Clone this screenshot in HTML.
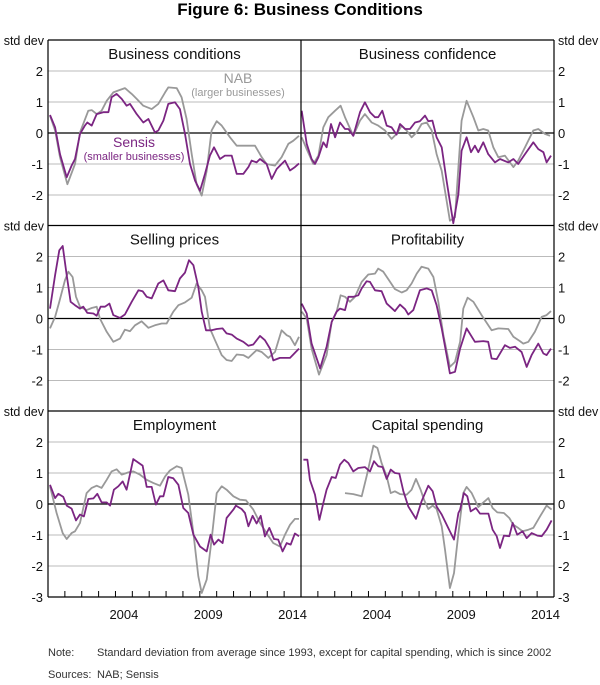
<!DOCTYPE html>
<html><head><meta charset="utf-8">
<style>
html,body{margin:0;padding:0;background:#fff;}
body{width:600px;height:680px;overflow:hidden;font-family:"Liberation Sans",sans-serif;}
svg text{font-family:"Liberation Sans",sans-serif;}
</style></head>
<body>
<svg id="chart" width="600" height="680" viewBox="0 0 600 680" xmlns="http://www.w3.org/2000/svg">
<text x="300" y="15" text-anchor="middle" font-size="17" font-weight="bold" fill="#000">Figure 6: Business Conditions</text>
<g id="grid"></g><g id="series"></g><g id="frame"></g><g id="labels"></g>
<text x="238" y="83" text-anchor="middle" font-size="14" fill="#999">NAB</text>
<text x="238" y="96" text-anchor="middle" font-size="11" fill="#999">(larger businesses)</text>
<text x="134" y="147" text-anchor="middle" font-size="14" fill="#7b2582">Sensis</text>
<text x="134" y="160" text-anchor="middle" font-size="11" fill="#7b2582">(smaller businesses)</text>
<text x="48" y="656" font-size="11" fill="#333">Note:</text>
<text x="97" y="656" font-size="11" fill="#333">Standard deviation from average since 1993, except for capital spending, which is since 2002</text>
<text x="48" y="678" font-size="11" fill="#333">Sources:</text>
<text x="97" y="678" font-size="11" fill="#333">NAB; Sensis</text>
</svg>
<script>
// ---- data ----
const panelTitles = ["Business conditions","Business confidence","Selling prices","Profitability","Employment","Capital spending"];
const yTicks = [2,1,0,-1,-2];
const xTickLabels = [2004,2009,2014];

const bcSensisT = [2000.12,2000.42,2000.71,2001.11,2001.40,2001.60,2001.90,2002.19,2002.33,2002.59,2002.89,2003.28,2003.58,2003.77,2004.07,2004.37,2004.66,2004.86,2005.26,2005.65,2005.95,2006.34,2006.54,2006.84,2007.13,2007.53,2007.82,2008.12,2008.42,2008.72,2009.01,2009.31,2009.60,2009.84,2010.20,2010.49,2010.89,2011.19,2011.58,2011.88,2012.07,2012.37,2012.57,2012.96,2013.26,2013.56,2013.85,2014.05,2014.35,2014.64,2014.88];
const bcSensisV = [0.58,0.18,-0.68,-1.43,-1.05,-0.84,-0.03,0.24,0.34,0.24,0.61,0.67,0.67,1.15,1.26,1.10,0.88,0.94,0.61,0.34,0.45,0.02,0.08,0.40,0.94,0.99,0.77,-0.03,-1.0,-1.54,-1.86,-1.32,-0.73,-0.46,-0.84,-0.73,-0.73,-1.32,-1.32,-1.1,-0.89,-0.95,-0.84,-1.0,-1.48,-1.16,-1.0,-0.89,-1.21,-1.1,-0.98];
const bcNabT = [2000.12,2000.42,2000.71,2001.15,2001.60,2001.90,2002.39,2002.59,2002.89,2003.18,2003.48,2003.87,2004.17,2004.56,2004.96,2005.26,2005.65,2006.15,2006.54,2006.94,2007.13,2007.63,2007.92,2008.22,2008.52,2008.81,2009.11,2009.41,2009.70,2010.00,2010.30,2010.79,2011.19,2011.68,2012.27,2012.67,2012.96,2013.46,2013.85,2014.25,2014.54,2014.88];
const bcNabV = [0.56,0.08,-0.78,-1.65,-1.0,0.02,0.72,0.74,0.61,0.72,1.04,1.31,1.37,1.45,1.26,1.10,0.88,0.77,0.94,1.31,1.47,1.45,1.15,0.45,-0.68,-1.65,-2.02,-1.22,0.08,0.38,0.24,-0.14,-0.41,-0.41,-0.41,-0.78,-1.0,-1.05,-0.78,-0.35,-0.25,-0.09];

const cfSensisT = [2000.04,2000.34,2000.63,2000.83,2001.03,2001.32,2001.52,2001.78,2002.02,2002.31,2002.61,2002.81,2003.10,2003.50,2003.79,2004.09,2004.39,2004.58,2004.82,2005.08,2005.37,2005.67,2005.87,2006.17,2006.46,2006.76,2007.05,2007.35,2007.55,2007.79,2008.04,2008.34,2008.63,2009.03,2009.33,2009.52,2009.82,2010.08,2010.31,2010.51,2010.81,2011.10,2011.50,2011.80,2012.29,2012.59,2012.88,2013.28,2013.77,2014.07,2014.37,2014.56,2014.82];
const cfSensisV = [0.72,-0.35,-0.84,-1.0,-0.78,-0.3,-0.46,0.29,-0.14,0.34,0.13,0.13,-0.09,0.67,0.99,0.67,0.51,0.51,0.72,0.24,0.18,-0.05,0.29,0.13,0.13,0.34,0.38,0.56,0.38,0.40,-0.14,-0.46,-1.54,-2.91,-1.97,-0.57,-0.14,-0.62,-0.41,-0.62,-0.3,-0.68,-0.95,-0.84,-0.95,-0.84,-1.0,-0.68,-0.3,-0.52,-0.62,-0.95,-0.73];
const cfNabT = [2000.04,2000.34,2000.73,2001.03,2001.32,2001.62,2002.02,2002.35,2002.61,2003.10,2003.50,2003.79,2004.19,2004.58,2004.98,2005.37,2005.67,2005.97,2006.26,2006.56,2006.86,2007.15,2007.45,2007.75,2008.04,2008.34,2008.63,2008.83,2009.13,2009.33,2009.52,2009.82,2010.22,2010.51,2010.81,2011.10,2011.40,2011.70,2012.09,2012.59,2012.88,2013.28,2013.77,2014.07,2014.46,2014.76];
const cfNabV = [-0.14,-0.52,-1.0,-0.73,0.18,0.51,0.72,0.88,0.51,-0.09,0.40,0.61,0.34,0.24,0.08,-0.19,-0.03,0.24,0.08,-0.14,0.02,0.29,0.34,0.08,-0.68,-1.22,-2.18,-2.83,-2.72,-1.1,0.40,1.04,0.51,0.08,0.13,0.08,-0.46,-0.78,-0.73,-1.1,-0.89,-0.46,0.08,0.13,-0.03,-0.09];

const spSensisT = [2000.12,2000.42,2000.67,2000.87,2001.11,2001.34,2001.60,2001.90,2002.09,2002.33,2002.69,2002.89,2003.12,2003.38,2003.64,2003.87,2004.27,2004.56,2004.96,2005.36,2005.61,2005.85,2006.15,2006.54,2006.84,2007.13,2007.53,2007.82,2008.12,2008.36,2008.62,2008.91,2009.11,2009.37,2009.70,2010.00,2010.35,2010.59,2010.89,2011.19,2011.58,2011.88,2012.17,2012.57,2012.86,2013.16,2013.36,2013.75,2014.35,2014.88];
const spSensisV = [0.32,1.40,2.20,2.34,1.40,0.54,0.43,0.32,0.38,0.18,0.16,0.09,0.38,0.38,0.48,0.11,0.02,0.13,0.54,0.91,0.88,0.70,0.65,1.13,1.23,0.91,0.88,1.29,1.48,1.88,1.72,1.02,0.22,-0.38,-0.38,-0.34,-0.32,-0.48,-0.52,-0.65,-0.75,-0.88,-0.84,-0.56,-0.70,-0.97,-1.35,-1.27,-1.27,-0.97];
const spNabT = [2000.12,2000.42,2000.67,2001.01,2001.21,2001.46,2001.66,2001.90,2002.29,2002.59,2002.89,2003.08,2003.48,2003.87,2004.27,2004.56,2004.86,2005.16,2005.55,2005.95,2006.34,2006.74,2007.03,2007.43,2007.73,2008.12,2008.52,2008.81,2009.11,2009.31,2009.60,2009.90,2010.30,2010.59,2010.89,2011.19,2011.58,2011.88,2012.37,2012.67,2013.06,2013.46,2013.85,2014.15,2014.35,2014.64,2014.88];
const spNabV = [-0.32,0.05,0.54,1.24,1.51,1.34,0.70,0.38,0.27,0.34,0.38,0,-0.43,-0.75,-0.65,-0.36,-0.41,-0.22,-0.09,-0.30,-0.22,-0.16,-0.16,0.22,0.43,0.52,0.67,1.13,0.91,0.70,-0.32,-0.70,-1.18,-1.34,-1.37,-1.16,-1.18,-1.27,-1.02,-1.08,-1.27,-1.08,-0.38,-0.54,-0.59,-0.86,-0.59];

const prSensisT = [2000.04,2000.34,2000.63,2001.13,2001.52,2001.82,2002.11,2002.31,2002.61,2002.81,2003.10,2003.40,2003.60,2003.89,2004.09,2004.39,2004.78,2005.08,2005.57,2005.87,2006.17,2006.36,2006.66,2007.05,2007.45,2007.75,2008.04,2008.34,2008.63,2008.83,2009.13,2009.43,2009.82,2010.31,2010.81,2011.10,2011.30,2011.60,2012.09,2012.39,2012.69,2013.08,2013.38,2013.67,2014.07,2014.37,2014.56,2014.82];
const prSensisV = [0.48,0.16,-0.81,-1.61,-0.91,-0.11,0.22,0.32,0.27,0.70,0.70,0.75,0.97,1.20,1.18,0.91,0.88,0.48,0.24,0.45,0.30,0.13,0.27,0.91,0.97,0.91,0.43,-0.32,-1.18,-1.77,-1.72,-0.97,-0.32,-0.75,-0.73,-0.75,-1.29,-1.31,-0.86,-0.95,-0.91,-1.08,-1.56,-1.18,-0.81,-1.13,-1.18,-0.97];
const prNabT = [2000.04,2000.34,2000.63,2001.07,2001.52,2001.82,2002.11,2002.35,2002.61,2002.90,2003.20,2003.60,2003.99,2004.39,2004.58,2004.88,2005.28,2005.57,2005.97,2006.26,2006.56,2006.86,2007.15,2007.55,2007.85,2008.14,2008.44,2008.83,2009.13,2009.43,2009.62,2009.88,2010.22,2010.71,2011.30,2011.70,2012.29,2012.59,2012.98,2013.18,2013.48,2013.87,2014.27,2014.56,2014.82];
const prNabV = [0.22,0,-0.97,-1.81,-1.18,-0.11,0.22,0.75,0.70,0.54,0.70,1.18,1.42,1.45,1.61,1.51,1.18,0.95,0.84,0.91,1.13,1.45,1.67,1.61,1.34,0.54,-0.54,-1.56,-1.40,-0.75,0.32,0.67,0.54,0.11,-0.38,-0.32,-0.34,-0.59,-0.73,-0.81,-0.75,-0.43,0.05,0.11,0.24];

const emSensisT = [2000.12,2000.42,2000.61,2000.91,2001.11,2001.40,2001.66,2001.90,2002.13,2002.39,2002.69,2002.92,2003.18,2003.48,2003.68,2003.91,2004.17,2004.43,2004.66,2005.06,2005.61,2005.85,2006.15,2006.40,2006.64,2006.84,2007.13,2007.43,2007.73,2008.02,2008.32,2008.62,2009.01,2009.41,2009.64,2009.84,2010.10,2010.35,2010.59,2010.99,2011.14,2011.48,2011.68,2011.88,2012.13,2012.37,2012.61,2012.86,2013.12,2013.40,2013.65,2013.91,2014.15,2014.39,2014.64,2014.88];
const emSensisV = [0.62,0.19,0.33,0.23,-0.05,-0.15,-0.53,-0.34,-0.40,0.16,0.18,0.33,0.05,0.05,-0.05,0.46,0.57,0.73,0.46,1.45,1.24,0.55,0.55,-0.02,0.25,0.25,0.87,0.83,0.62,-0.13,-0.29,-0.99,-1.37,-1.53,-0.99,-1.31,-1.15,-1.26,-0.45,-0.18,-0.05,-0.16,-0.29,-0.72,-0.38,-0.63,-0.38,-1.05,-0.77,-1.13,-1.15,-1.53,-1.26,-1.31,-0.95,-1.04];
const emNabT = [2000.12,2000.51,2000.87,2001.11,2001.40,2001.60,2001.90,2002.29,2002.59,2002.89,2003.18,2003.48,2003.77,2004.07,2004.37,2004.76,2005.06,2005.45,2005.85,2006.24,2006.64,2006.94,2007.23,2007.63,2007.92,2008.32,2008.62,2008.91,2009.11,2009.41,2009.70,2010.00,2010.30,2010.59,2010.99,2011.38,2011.74,2012.17,2012.57,2012.96,2013.36,2013.75,2014.05,2014.35,2014.64,2014.88];
const emNabV = [0.57,-0.29,-0.94,-1.13,-0.94,-0.88,-0.61,0.35,0.52,0.59,0.52,0.78,1.05,1.12,0.95,1.02,1.05,0.95,0.78,0.68,0.59,0.89,1.08,1.22,1.16,0.30,-0.94,-2.33,-2.87,-2.44,-1.15,0.35,0.57,0.46,0.25,0.14,0.12,-0.18,-0.61,-0.94,-1.26,-1.37,-0.99,-0.67,-0.48,-0.48];

const csSensisT = [2000.14,2000.38,2000.53,2000.83,2001.09,2001.32,2001.52,2001.82,2002.06,2002.31,2002.57,2002.81,2003.10,2003.40,2003.79,2004.09,2004.33,2004.58,2004.84,2005.08,2005.32,2005.57,2005.83,2006.07,2006.36,2006.82,2007.15,2007.55,2007.81,2008.04,2008.34,2008.73,2009.07,2009.33,2009.43,2009.66,2009.86,2010.06,2010.37,2010.61,2011.11,2011.36,2011.60,2011.80,2012.03,2012.35,2012.55,2012.82,2013.14,2013.38,2013.67,2014.01,2014.27,2014.56,2014.86];
const csSensisV = [1.43,1.43,0.78,0.30,-0.51,0.03,0.46,0.87,0.84,1.27,1.43,1.32,1.05,1.16,1.19,1.05,1.38,1.22,1.19,0.81,1.11,1.00,0.98,0.41,-0.08,-0.48,0.09,0.59,0.41,-0.08,-0.34,-0.77,-1.15,-0.29,-0.18,0.35,0.25,-0.24,-0.13,-0.31,-0.31,-0.83,-1.04,-1.42,-1.02,-1.04,-0.61,-0.99,-0.88,-1.10,-0.94,-1.02,-1.04,-0.83,-0.53];
const csNabT = [2002.61,2003.10,2003.60,2003.89,2004.29,2004.53,2004.78,2005.08,2005.32,2005.57,2005.87,2006.26,2006.56,2006.82,2007.09,2007.29,2007.55,2007.81,2008.04,2008.34,2008.54,2008.83,2009.07,2009.33,2009.62,2009.82,2010.12,2010.51,2010.77,2011.11,2011.36,2011.64,2012.03,2012.35,2012.59,2012.88,2013.14,2013.48,2013.77,2014.17,2014.56,2014.86];
const csNabV = [0.35,0.32,0.25,0.89,1.88,1.81,1.32,0.89,0.35,0.41,0.32,0.30,0.46,0.81,0.46,0.14,-0.16,-0.05,-0.16,-0.72,-1.47,-2.71,-2.23,-0.94,0.35,0.55,0.35,-0.10,0.03,0.19,-0.13,-0.27,-0.29,-0.45,-0.67,-0.77,-0.88,-0.83,-0.77,-0.40,-0.05,-0.18];

// ---- layout ----
const NS = "http://www.w3.org/2000/svg";
const colX = [48, 301], colW = 253;
const rowY = [40, 225.5, 411], rowH = 186, unit = 31;
const X0 = 2000, X1 = 2015;
function xs(col, yr){ return colX[col] + (yr - X0) / (X1 - X0) * colW; }
function ys(row, v){ return rowY[row] + rowH/2 - v * unit; }
function mk(tag, attrs, parent){
  const e = document.createElementNS(NS, tag);
  for (const k in attrs) e.setAttribute(k, attrs[k]);
  parent.appendChild(e); return e;
}
const grid = document.getElementById('grid');
const seriesG = document.getElementById('series');
const frame = document.getElementById('frame');
const labels = document.getElementById('labels');

const panels = [
  {s:[bcSensisT,bcSensisV], n:[bcNabT,bcNabV]},
  {s:[cfSensisT,cfSensisV], n:[cfNabT,cfNabV]},
  {s:[spSensisT,spSensisV], n:[spNabT,spNabV]},
  {s:[prSensisT,prSensisV], n:[prNabT,prNabV]},
  {s:[emSensisT,emSensisV], n:[emNabT,emNabV]},
  {s:[csSensisT,csSensisV], n:[csNabT,csNabV]}
];

panels.forEach((p, i) => {
  const col = i % 2, row = Math.floor(i / 2);
  yTicks.forEach(v => {
    const g = mk('line', {x1:colX[col], x2:colX[col]+colW, y1:ys(row,v), y2:ys(row,v), stroke: v===0?'#000':'#bbb', 'stroke-width': v===0?1.2:1}, grid);
    
    
  });
  const t = mk('text', {x: colX[col]+colW/2, y: rowY[row]+19, 'text-anchor':'middle', 'font-size':15, fill:'#111'}, labels);
  t.textContent = panelTitles[i];
  
  
  [['n','#999'],['s','#7b2582']].forEach(([k,c]) => {
    const T = p[k][0], V = p[k][1];
    const d = T.map((yr, j) => (j ? 'L' : 'M') + xs(col, yr).toFixed(1) + ',' + ys(row, V[j]).toFixed(1)).join('');
    const path = mk('path', {d: d, fill:'none', stroke:c, 'stroke-width':1.8, 'stroke-linejoin':'round'}, seriesG);
    
    
  });
});

// frame
rowY.forEach(y => {
  const l = mk('line', {x1:48, x2:554, y1:y, y2:y, stroke:'#000', 'stroke-width':1.2}, frame);
  
  
});
const bottom = rowY[2] + rowH;
[48, 301, 554].forEach(x => {
  const l = mk('line', {x1:x, x2:x, y1:40, y2:bottom, stroke:'#000', 'stroke-width':1.2}, frame);
  
  
});
const bl = mk('line', {x1:48, x2:554, y1:bottom, y2:bottom, stroke:'#000', 'stroke-width':1.2}, frame);


[0,1].forEach(col => {
  for (let yr = 2001; yr <= 2014; yr++) {
    const tk = mk('line', {x1:xs(col,yr), x2:xs(col,yr), y1:bottom, y2:bottom-6, stroke:'#000', 'stroke-width':1}, frame);
    
    
  }
  xTickLabels.forEach(yr => {
    const t = mk('text', {x: xs(col, yr + 0.5), y: bottom + 22, 'text-anchor':'middle', 'font-size':13, fill:'#111'}, labels);
    t.textContent = yr;
    
    
  });
});
// y labels
rowY.forEach((ry, row) => {
  const sl = mk('text', {x:44, y:ry+5, 'text-anchor':'end', 'font-size':12.5, fill:'#111'}, labels);
  sl.textContent = 'std dev';
  
  
  const sr = mk('text', {x:558, y:ry+5, 'text-anchor':'start', 'font-size':12.5, fill:'#111'}, labels);
  sr.textContent = 'std dev';
  
  
  yTicks.forEach(v => {
    const a = mk('text', {x:43, y:ys(row,v)+5, 'text-anchor':'end', 'font-size':13, fill:'#111'}, labels);
    a.textContent = v;
    
    
    const b = mk('text', {x:558, y:ys(row,v)+5, 'text-anchor':'start', 'font-size':13, fill:'#111'}, labels);
    b.textContent = v;
    
    
  });
});
const m3l = mk('text', {x:43, y:bottom+5, 'text-anchor':'end', 'font-size':13, fill:'#111'}, labels);
m3l.textContent = '-3';


const m3r = mk('text', {x:558, y:bottom+5, 'text-anchor':'start', 'font-size':13, fill:'#111'}, labels);
m3r.textContent = '-3';


</script>
</body></html>
